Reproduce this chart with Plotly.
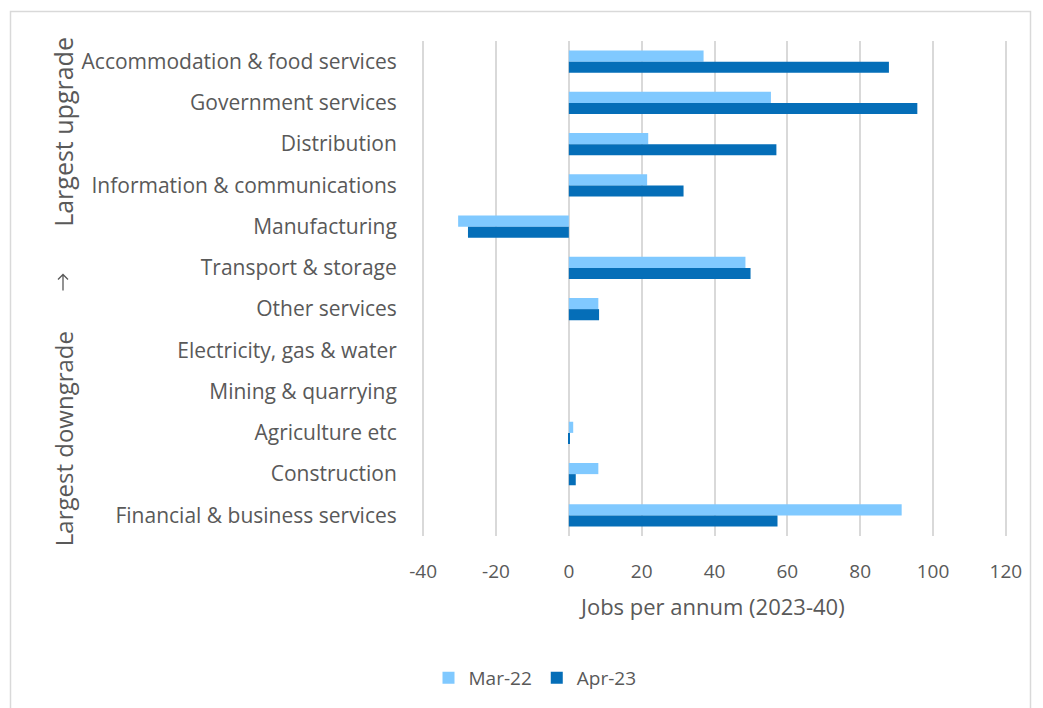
import plotly.graph_objects as go

# Sectors ordered top to bottom
sectors = [
    "Accommodation & food services",
    "Government services",
    "Distribution",
    "Information & communications",
    "Manufacturing",
    "Transport & storage",
    "Other services",
    "Electricity, gas & water",
    "Mining & quarrying",
    "Agriculture etc",
    "Construction",
    "Financial & business services",
]
mar22 = [37.0, 55.5, 21.8, 21.5, -30.4, 48.5, 8.1, 0.0, 0.0, 1.2, 8.1, 91.4]
apr23 = [87.9, 95.7, 57.0, 31.5, -27.7, 49.9, 8.3, 0.0, 0.0, 0.3, 1.9, 57.3]
x_ticks = [-40, -20, 0, 20, 40, 60, 80, 100, 120]

LIGHT = "#80C9FF"
DARK = "#056EB8"
TEXT = "#595959"
GRID = "#D9D9D9"
FONT = "Open Sans"

W, H = 1043, 708
ML, MR, MT, MB = 421, 35, 41, 171
PW, PH = W - ML - MR, H - MT - MB
# small padding so the outer gridlines at -40 and 120 stay visible
X_RANGE = [-40.6, 120.6]


def px_x(px):
    return (px - ML) / PW


def px_y(py):
    return (H - MB - py) / PH


fig = go.Figure()
fig.add_trace(go.Bar(y=sectors, x=mar22, name="Mar-22", orientation="h",
                     marker=dict(color=LIGHT, line=dict(width=0))))
fig.add_trace(go.Bar(y=sectors, x=apr23, name="Apr-23", orientation="h",
                     marker=dict(color=DARK, line=dict(width=0))))

fig.update_layout(
    width=W, height=H,
    margin=dict(l=ML, r=MR, t=MT, b=MB, pad=0),
    paper_bgcolor="white", plot_bgcolor="white",
    barmode="group", bargap=0.46, bargroupgap=0.0,
    font=dict(family=FONT, color=TEXT, size=18),
    showlegend=True,
    legend=dict(orientation="h", x=px_x(535), y=px_y(678), xanchor="center",
                yanchor="middle", font=dict(size=19, color=TEXT),
                traceorder="normal", itemwidth=30),
    xaxis=dict(range=X_RANGE, tickvals=x_ticks, ticktext=[str(v) for v in x_ticks],
               showgrid=True, gridcolor=GRID, gridwidth=1.5, zeroline=False,
               showline=False, ticks="outside", ticklen=18,
               tickcolor="rgba(0,0,0,0)", tickfont=dict(size=19, color=TEXT)),
    yaxis=dict(autorange="reversed", showgrid=False, zeroline=False, showline=False,
               ticks="outside", ticklen=19, tickcolor="rgba(0,0,0,0)",
               tickfont=dict(size=21, color=TEXT)),
)

annotations = [
    dict(text="Jobs per annum (2023-40)", x=px_x(712), y=px_y(607),
         font=dict(size=22, color=TEXT)),
    dict(text="Largest upgrade", x=px_x(63), y=px_y(132), textangle=-90,
         font=dict(size=25, color=TEXT)),
    dict(text="Largest downgrade", x=px_x(63), y=px_y(440), textangle=-90,
         font=dict(size=24, color=TEXT)),
]
for a in annotations:
    fig.add_annotation(xref="paper", yref="paper", showarrow=False,
                       xanchor="center", yanchor="middle", **a)

# Upward arrow between the two side labels
ax_, top, bot = 63, 275, 291
arrow_path = (
    f"M {px_x(ax_)},{px_y(bot)} L {px_x(ax_)},{px_y(top)} "
    f"M {px_x(ax_ - 5)},{px_y(top + 5)} L {px_x(ax_)},{px_y(top)} "
    f"L {px_x(ax_ + 5)},{px_y(top + 5)}"
)
fig.add_shape(type="path", xref="paper", yref="paper", path=arrow_path,
              line=dict(color=TEXT, width=1.3))

# Light frame around the chart
fig.add_shape(type="rect", xref="paper", yref="paper",
              x0=px_x(10.5), x1=px_x(1030.5), y0=px_y(720), y1=px_y(11.5),
              line=dict(color=GRID, width=1.5), fillcolor="rgba(0,0,0,0)",
              layer="below")

fig.write_html("out.html")
